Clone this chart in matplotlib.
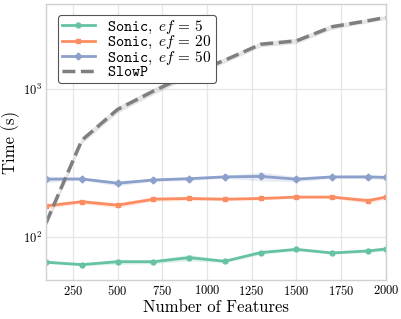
import numpy as np
import matplotlib
matplotlib.use("Agg")
import matplotlib.pyplot as plt

############################################################
# Data
############################################################

features = [100, 300, 500, 700, 900, 1100, 1300, 1500, 1700, 1900, 2000]

sonic_ef5 = [68, 65.5, 68.5, 68.5, 73, 69, 79, 83, 78.5, 81, 83.5]
sonic_ef20 = [163, 174, 165, 181, 183, 181, 183, 187, 187, 177, 187]
sonic_ef50 = [247, 248, 232, 244, 249, 256, 258, 247, 256, 256, 254]
slowp = [125, 452, 730, 970, 1260, 1570, 2010, 2120, 2640, 2900, 3050]

# rough spread of the shaded bands (fraction of value)
spread_ef5 = [0.02, 0.02, 0.04, 0.03, 0.05, 0.02, 0.03, 0.02, 0.02, 0.02, 0.04]
spread_ef20 = [0.04, 0.03, 0.04, 0.03, 0.03, 0.02, 0.02, 0.02, 0.02, 0.04, 0.03]
spread_ef50 = [0.05, 0.02, 0.04, 0.02, 0.03, 0.02, 0.07, 0.04, 0.02, 0.03, 0.03]
spread_slowp = [0.06, 0.05, 0.05, 0.05, 0.05, 0.04, 0.04, 0.04, 0.04, 0.03, 0.03]

labels = [
    r"$\mathtt{Sonic},\ ef\,=\,5$",
    r"$\mathtt{Sonic},\ ef\,=\,20$",
    r"$\mathtt{Sonic},\ ef\,=\,50$",
    r"$\mathtt{SlowP}$",
]

############################################################
# Style
############################################################

plt.rcParams["font.family"] = ["cmr10", "DejaVu Serif"]
plt.rcParams["mathtext.fontset"] = "cm"
plt.rcParams["axes.formatter.use_mathtext"] = True
plt.rcParams["axes.unicode_minus"] = False

colors = ["#66c2a5", "#fc8d62", "#8da0cb", "#7f7f7f"]
markers = ["o", "s", "D", None]

fig = plt.figure(figsize=(4.02, 3.19), dpi=100)
ax = fig.add_axes([0.1144, 0.122, 0.8456, 0.865])

x = np.array(features)
series = [sonic_ef5, sonic_ef20, sonic_ef50, slowp]
spreads = [spread_ef5, spread_ef20, spread_ef50, spread_slowp]

for vals, spr, c, m, lab in zip(series, spreads, colors, markers, labels):
    v = np.array(vals, dtype=float)
    s = np.array(spr)
    ax.fill_between(x, v * (1 - s), v * (1 + s), color=c, alpha=0.2,
                    linewidth=0)
    if m is None:
        ax.plot(x, v, color=c, linestyle="--", linewidth=2.5, label=lab)
    else:
        ax.plot(x, v, color=c, marker=m, markersize=3.5, linewidth=2,
                label=lab)

ax.set_yscale("log")
ax.set_xlim(100, 2000)
ax.set_ylim(51.5, 3750)
ax.set_xticks([250, 500, 750, 1000, 1250, 1500, 1750, 2000])

ax.grid(True, which="major", color="#e6e6e6", linewidth=0.9)
ax.set_axisbelow(True)
ax.tick_params(which="both", length=0, labelsize=9, pad=3)
for sp in ax.spines.values():
    sp.set_color("#d0d0d0")
    sp.set_linewidth(1.0)

ax.set_xlabel("Number of Features", fontsize=12, labelpad=1)
ax.set_ylabel("Time (s)", fontsize=12, labelpad=2)

leg = ax.legend(loc="upper left", fontsize=11, frameon=True, fancybox=True,
                handlelength=2.2, borderpad=0.25, labelspacing=-0.1,
                handletextpad=0.8, bbox_to_anchor=(0.012, 0.99))
leg.get_frame().set_edgecolor("#555555")
leg.get_frame().set_linewidth(0.8)
leg.get_frame().set_alpha(1.0)

fig.savefig("out.png", dpi=100)
